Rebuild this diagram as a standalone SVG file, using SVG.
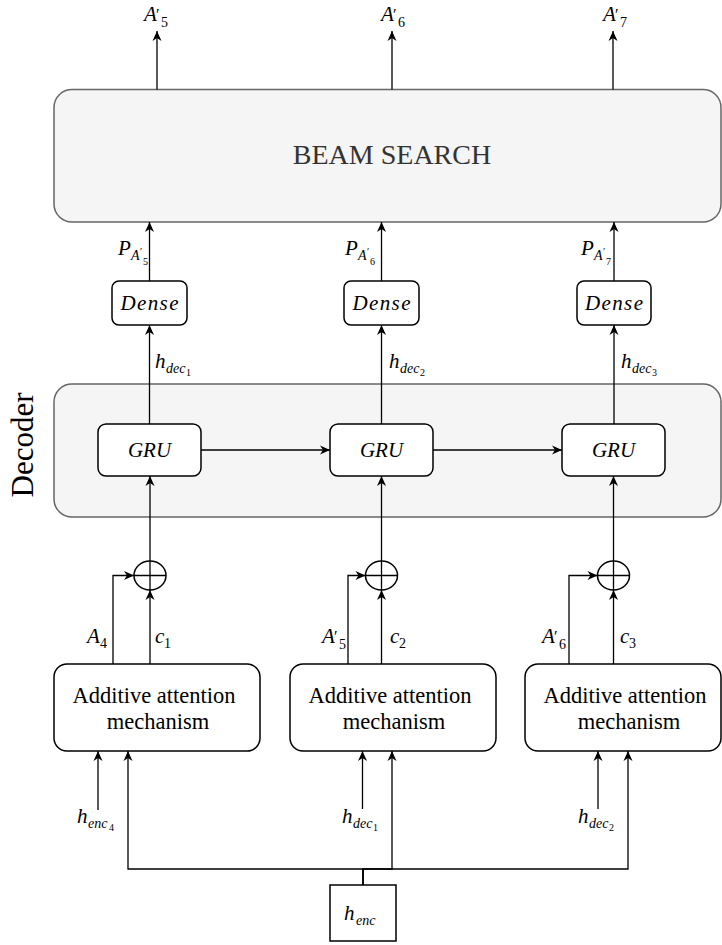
<svg xmlns="http://www.w3.org/2000/svg" width="722" height="945" viewBox="0 0 722 945">
  <style>
    .box { fill: #ffffff; stroke: #000000; stroke-width: 1.5; }
    .group { fill: #f5f5f5; stroke: #666666; stroke-width: 1.5; }
    .wire { fill: none; stroke: #000000; stroke-width: 1.3; }
    .arrow { fill: none; stroke: #000000; stroke-width: 1.3; marker-end: url(#head); }
    .rm { font-family: "Liberation Serif", "Times New Roman", serif; fill: #000000; }
    .mi { font-family: "Liberation Serif", "Times New Roman", serif; font-style: italic; font-size: 21px; fill: #000000; }
    .s1 { font-size: 14px; }
    .s2 { font-size: 10px; }
    .pr { font-size: 16px; font-style: normal; }
    .up { font-style: normal; }
  </style>
  <defs>
    <marker id="head" markerUnits="userSpaceOnUse" markerWidth="10" markerHeight="9" refX="10" refY="4.5" orient="auto" overflow="visible">
      <path d="M0,0 L10,4.5 L0,9 L3,4.5 Z" fill="#000000"/>
    </marker>
  </defs>

  <!-- containers -->
  <g id="beam-search">
    <rect class="group" x="54" y="89.5" width="667" height="132.5" rx="18"/>
    <text class="rm" x="392" y="164" font-size="28" text-anchor="middle" style="fill:#333333">BEAM SEARCH</text>
  </g>
  <g id="decoder">
    <rect class="group" x="54" y="384" width="667" height="133" rx="18"/>
    <text class="rm" x="33" y="445" font-size="31" text-anchor="middle" transform="rotate(-90 33 445)">Decoder</text>
  </g>

  <!-- connectors -->
  <g id="connectors">
    <!-- beam search outputs -->
    <path class="arrow" d="M157,89.5 V31"/>
    <path class="arrow" d="M392,89.5 V31"/>
    <path class="arrow" d="M613,89.5 V31"/>
    <!-- dense to beam search -->
    <path class="arrow" d="M149.5,281 V222"/>
    <path class="arrow" d="M381.5,281 V222"/>
    <path class="arrow" d="M614,281 V222"/>
    <!-- GRU to dense -->
    <path class="arrow" d="M149.5,424 V325"/>
    <path class="arrow" d="M381.5,424 V325"/>
    <path class="arrow" d="M614,424 V325"/>
    <!-- recurrent links -->
    <path class="arrow" d="M201,450 H330"/>
    <path class="arrow" d="M433,450 H562"/>
    <!-- sum to GRU -->
    <path class="arrow" d="M150,561 V476"/>
    <path class="arrow" d="M381.5,561 V476"/>
    <path class="arrow" d="M613.5,561 V476"/>
    <!-- context vectors to sum -->
    <path class="arrow" d="M150,664 V590"/>
    <path class="arrow" d="M381.5,664 V590"/>
    <path class="arrow" d="M613.5,664 V590"/>
    <!-- previous outputs to sum -->
    <path class="arrow" d="M113,664 V575.5 H134"/>
    <path class="arrow" d="M348,664 V575.5 H365.5"/>
    <path class="arrow" d="M569,664 V575.5 H597.5"/>
    <!-- hidden states into attention -->
    <path class="arrow" d="M98,810 V751"/>
    <path class="arrow" d="M362.5,809 V751"/>
    <path class="arrow" d="M598,809 V751"/>
    <!-- encoder states into attention -->
    <path class="arrow" d="M363,885 V869 H128 V751"/>
    <path class="arrow" d="M363,885 V869 H392 V751"/>
    <path class="arrow" d="M363,885 V869 H628 V751"/>
  </g>

  <!-- sum nodes -->
  <g id="sum-1">
    <ellipse class="box" cx="150" cy="575.5" rx="16" ry="14.5"/>
    <path class="wire" d="M134,575.5 H166 M150,561 V590"/>
  </g>
  <g id="sum-2">
    <ellipse class="box" cx="381.5" cy="575.5" rx="16" ry="14.5"/>
    <path class="wire" d="M365.5,575.5 H397.5 M381.5,561 V590"/>
  </g>
  <g id="sum-3">
    <ellipse class="box" cx="613.5" cy="575.5" rx="16" ry="14.5"/>
    <path class="wire" d="M597.5,575.5 H629.5 M613.5,561 V590"/>
  </g>

  <!-- dense layers -->
  <g id="dense-1">
    <rect class="box" x="112" y="281" width="75" height="44" rx="7"/>
    <text class="mi" x="149.5" y="310" text-anchor="middle" font-size="22" textLength="58">Dense</text>
  </g>
  <g id="dense-2">
    <rect class="box" x="344" y="281" width="75" height="44" rx="7"/>
    <text class="mi" x="381.5" y="310" text-anchor="middle" font-size="22" textLength="58">Dense</text>
  </g>
  <g id="dense-3">
    <rect class="box" x="577" y="281" width="74" height="44" rx="7"/>
    <text class="mi" x="614" y="310" text-anchor="middle" font-size="22" textLength="58">Dense</text>
  </g>

  <!-- GRU cells -->
  <g id="gru-1">
    <rect class="box" x="98" y="424" width="103" height="52" rx="8"/>
    <text class="mi" x="149.5" y="457" text-anchor="middle">GRU</text>
  </g>
  <g id="gru-2">
    <rect class="box" x="330" y="424" width="103" height="52" rx="8"/>
    <text class="mi" x="381.5" y="457" text-anchor="middle">GRU</text>
  </g>
  <g id="gru-3">
    <rect class="box" x="562" y="424" width="103" height="52" rx="8"/>
    <text class="mi" x="613.5" y="457" text-anchor="middle">GRU</text>
  </g>

  <!-- attention blocks -->
  <g id="attention-1">
    <rect class="box" x="54" y="664" width="206" height="87" rx="13"/>
    <text class="rm" font-size="22.5" text-anchor="middle"><tspan x="154" y="703">Additive attention</tspan><tspan x="158" y="729">mechanism</tspan></text>
  </g>
  <g id="attention-2">
    <rect class="box" x="290" y="664" width="206" height="87" rx="13"/>
    <text class="rm" font-size="22.5" text-anchor="middle"><tspan x="390" y="703">Additive attention</tspan><tspan x="394" y="729">mechanism</tspan></text>
  </g>
  <g id="attention-3">
    <rect class="box" x="525" y="664" width="196" height="87" rx="13"/>
    <text class="rm" font-size="22.5" text-anchor="middle"><tspan x="625" y="703">Additive attention</tspan><tspan x="629" y="729">mechanism</tspan></text>
  </g>

  <!-- encoder states -->
  <g id="h-enc">
    <rect class="box" x="330" y="885" width="66" height="56"/>
    <text class="mi" x="344" y="920" font-size="22">h<tspan class="s1" x="356" y="925">enc</tspan></text>
  </g>

  <!-- labels -->
  <g id="labels">
    <!-- predicted outputs -->
    <text class="mi" x="144" y="21">A<tspan class="pr" x="156" y="20">′</tspan><tspan class="s1 up" x="161" y="27">5</tspan></text>
    <text class="mi" x="381" y="21">A<tspan class="pr" x="393" y="20">′</tspan><tspan class="s1 up" x="398" y="27">6</tspan></text>
    <text class="mi" x="603" y="21">A<tspan class="pr" x="615" y="20">′</tspan><tspan class="s1 up" x="620" y="27">7</tspan></text>

    <!-- probabilities -->
    <text class="mi" x="118" y="255">P<tspan class="s1" x="131" y="260">A</tspan><tspan class="s2 up" x="140" y="255">′</tspan><tspan class="s2 up" x="143" y="265">5</tspan></text>
    <text class="mi" x="345" y="255">P<tspan class="s1" x="358" y="260">A</tspan><tspan class="s2 up" x="367" y="255">′</tspan><tspan class="s2 up" x="370" y="265">6</tspan></text>
    <text class="mi" x="581" y="255">P<tspan class="s1" x="594" y="260">A</tspan><tspan class="s2 up" x="603" y="255">′</tspan><tspan class="s2 up" x="606" y="265">7</tspan></text>

    <!-- decoder hidden states -->
    <text class="mi" x="155" y="368">h<tspan class="s1" x="166" y="373">dec</tspan><tspan class="s2 up" x="186" y="376">1</tspan></text>
    <text class="mi" x="389" y="368">h<tspan class="s1" x="400" y="373">dec</tspan><tspan class="s2 up" x="420" y="376">2</tspan></text>
    <text class="mi" x="621" y="368">h<tspan class="s1" x="632" y="373">dec</tspan><tspan class="s2 up" x="652" y="376">3</tspan></text>

    <!-- sum inputs -->
    <text class="mi" x="87" y="643">A<tspan class="s1 up" x="100" y="648">4</tspan></text>
    <text class="mi" x="155" y="643">c<tspan class="s1 up" x="164" y="648">1</tspan></text>
    <text class="mi" x="322" y="643">A<tspan class="pr" x="334" y="642">′</tspan><tspan class="s1 up" x="339" y="649">5</tspan></text>
    <text class="mi" x="390" y="643">c<tspan class="s1 up" x="399" y="648">2</tspan></text>
    <text class="mi" x="542" y="643">A<tspan class="pr" x="554" y="642">′</tspan><tspan class="s1 up" x="559" y="649">6</tspan></text>
    <text class="mi" x="620" y="643">c<tspan class="s1 up" x="629" y="648">3</tspan></text>

    <!-- attention inputs -->
    <text class="mi" x="77" y="823">h<tspan class="s1" x="88" y="828">enc</tspan><tspan class="s2 up" x="109" y="831">4</tspan></text>
    <text class="mi" x="342" y="823">h<tspan class="s1" x="353" y="828">dec</tspan><tspan class="s2 up" x="373" y="831">1</tspan></text>
    <text class="mi" x="578" y="823">h<tspan class="s1" x="589" y="828">dec</tspan><tspan class="s2 up" x="609" y="831">2</tspan></text>
  </g>
</svg>
